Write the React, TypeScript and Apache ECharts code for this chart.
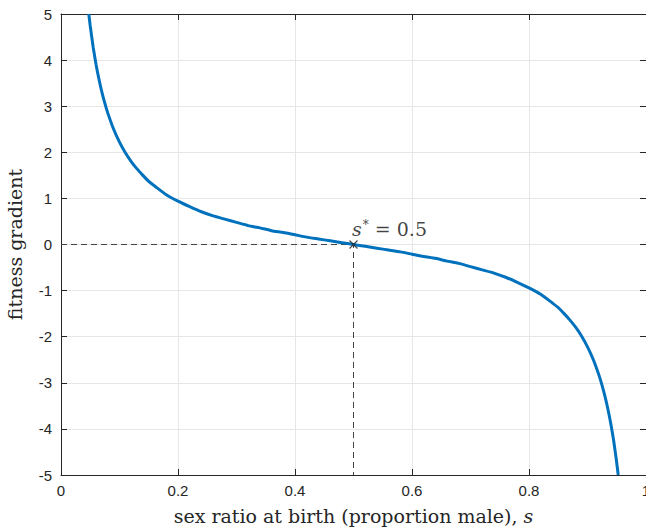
import React, { useEffect, useRef } from "react";
import * as echarts from "echarts";

// sex ratio s and fitness gradient
const sValues = [0.0475, 0.05, 0.055, 0.06, 0.065, 0.07, 0.075, 0.08, 0.09, 0.1, 0.11, 0.12, 0.13, 0.14, 0.15, 0.16, 0.18, 0.2, 0.22, 0.24, 0.26, 0.28, 0.3, 0.32, 0.34, 0.36, 0.38, 0.4, 0.42, 0.44, 0.46, 0.48, 0.5, 0.52, 0.54, 0.56, 0.58, 0.6, 0.62, 0.64, 0.66, 0.68, 0.7, 0.72, 0.74, 0.76, 0.78, 0.8, 0.82, 0.84, 0.85, 0.86, 0.87, 0.88, 0.89, 0.9, 0.91, 0.92, 0.925, 0.93, 0.935, 0.94, 0.945, 0.95, 0.9525];
const gradient = [5.0, 4.74, 4.28, 3.9, 3.58, 3.3, 3.06, 2.85, 2.5, 2.22, 1.99, 1.8, 1.64, 1.5, 1.37, 1.27, 1.08, 0.94, 0.82, 0.71, 0.62, 0.55, 0.48, 0.41, 0.36, 0.3, 0.26, 0.21, 0.16, 0.12, 0.08, 0.04, 0, -0.04, -0.08, -0.12, -0.16, -0.21, -0.26, -0.3, -0.36, -0.41, -0.48, -0.55, -0.62, -0.71, -0.82, -0.94, -1.08, -1.27, -1.37, -1.5, -1.64, -1.8, -1.99, -2.22, -2.5, -2.85, -3.06, -3.3, -3.58, -3.9, -4.28, -4.74, -5.0];
const equilibrium = [0.5, 0];
const guideX = [0, 0.5, 0.5];
const guideY = [0, 0, -5];
const xTicks = [0, 0.2, 0.4, 0.6, 0.8, 1];
const yTicks = [-5, -4, -3, -2, -1, 0, 1, 2, 3, 4, 5];

const AXIS = "#262626";
const TICK_FONT = "'Liberation Sans', Helvetica, Arial, sans-serif";
const SERIF = "'DejaVu Serif', 'Liberation Serif', serif";

export default function App() {
  const ref = useRef<HTMLDivElement>(null);
  useEffect(() => {
    const chart = echarts.init(ref.current!, null, { renderer: "svg" });
    const axisCommon = {
      type: "value",
      axisLine: { show: true, onZero: false, lineStyle: { color: AXIS, width: 1 } },
      axisTick: { show: true, inside: true, length: 6, lineStyle: { color: AXIS } },
      splitLine: { show: false },
    };
    chart.setOption({
      animation: false,
      backgroundColor: "#fff",
      grid: { left: 61, top: 14, width: 585, height: 461, containLabel: false, outerBoundsMode: "none" },
      xAxis: [
        {
          ...axisCommon,
          position: "bottom",
          min: 0,
          max: 1,
          interval: 0.2,
          axisLabel: {
            color: AXIS,
            fontFamily: TICK_FONT,
            fontSize: 15,
            margin: 8,
            formatter: (v: number) => (xTicks.includes(Math.round(v * 10) / 10) ? String(Math.round(v * 10) / 10) : ""),
          },
          splitLine: { show: true, lineStyle: { color: "#e6e6e6", width: 1 } },
          name: "sex ratio at birth (proportion male), {i|s}",
          nameLocation: "middle",
          nameGap: 31,
          nameTextStyle: {
            fontFamily: SERIF,
            fontSize: 19,
            color: AXIS,
            rich: { i: { fontFamily: SERIF, fontStyle: "italic", fontSize: 19, color: AXIS } },
          },
        },
        {
          ...axisCommon,
          position: "top",
          min: 0,
          max: 1,
          interval: 0.2,
          axisLabel: { show: false },
        },
      ],
      yAxis: [
        {
          ...axisCommon,
          position: "left",
          min: -5,
          max: 5,
          interval: 1,
          axisLabel: {
            color: AXIS,
            fontFamily: TICK_FONT,
            fontSize: 15,
            margin: 9,
            formatter: (v: number) => (yTicks.includes(v) ? String(v) : ""),
          },
          splitLine: { show: true, lineStyle: { color: "#e6e6e6", width: 1 } },
          name: "fitness gradient",
          nameLocation: "middle",
          nameGap: 37,
          nameTextStyle: { fontFamily: SERIF, fontSize: 19, color: AXIS },
        },
        {
          ...axisCommon,
          position: "right",
          min: -5,
          max: 5,
          interval: 1,
          axisLabel: { show: false },
        },
      ],
      series: [
        {
          type: "line",
          data: guideX.map((x, i) => [x, guideY[i]]),
          symbol: "none",
          lineStyle: { color: "#444", width: 1, type: [6, 4] },
          z: 2,
        },
        {
          type: "line",
          data: sValues.map((s, i) => [s, gradient[i]]),
          symbol: "none",
          smooth: 0.2,
          lineStyle: { color: "#0072BD", width: 3 },
          clip: true,
          z: 3,
        },
        {
          type: "scatter",
          data: [equilibrium],
          symbol: "path://M0,0L10,10M10,0L0,10",
          symbolSize: 8,
          itemStyle: { color: "none", borderColor: "#222", borderWidth: 1.2 },
          z: 4,
          label: {
            show: true,
            position: [5, -9],
            align: "left",
            verticalAlign: "middle",
            formatter: "{i|s}{sup|*}{n| = 0.5}",
            rich: {
              i: { fontFamily: SERIF, fontStyle: "italic", fontSize: 19, color: "#111" },
              sup: { fontFamily: SERIF, fontSize: 12, color: "#111", verticalAlign: "top", padding: [0, 0, 9, 1] },
              n: { fontFamily: SERIF, fontSize: 19, color: "#111" },
            },
          },
        },
      ],
    });
    return () => chart.dispose();
  }, []);
  return <div ref={ref} style={{ width: 646, height: 532, position: "absolute", left: 0, top: 0 }} />;
}
